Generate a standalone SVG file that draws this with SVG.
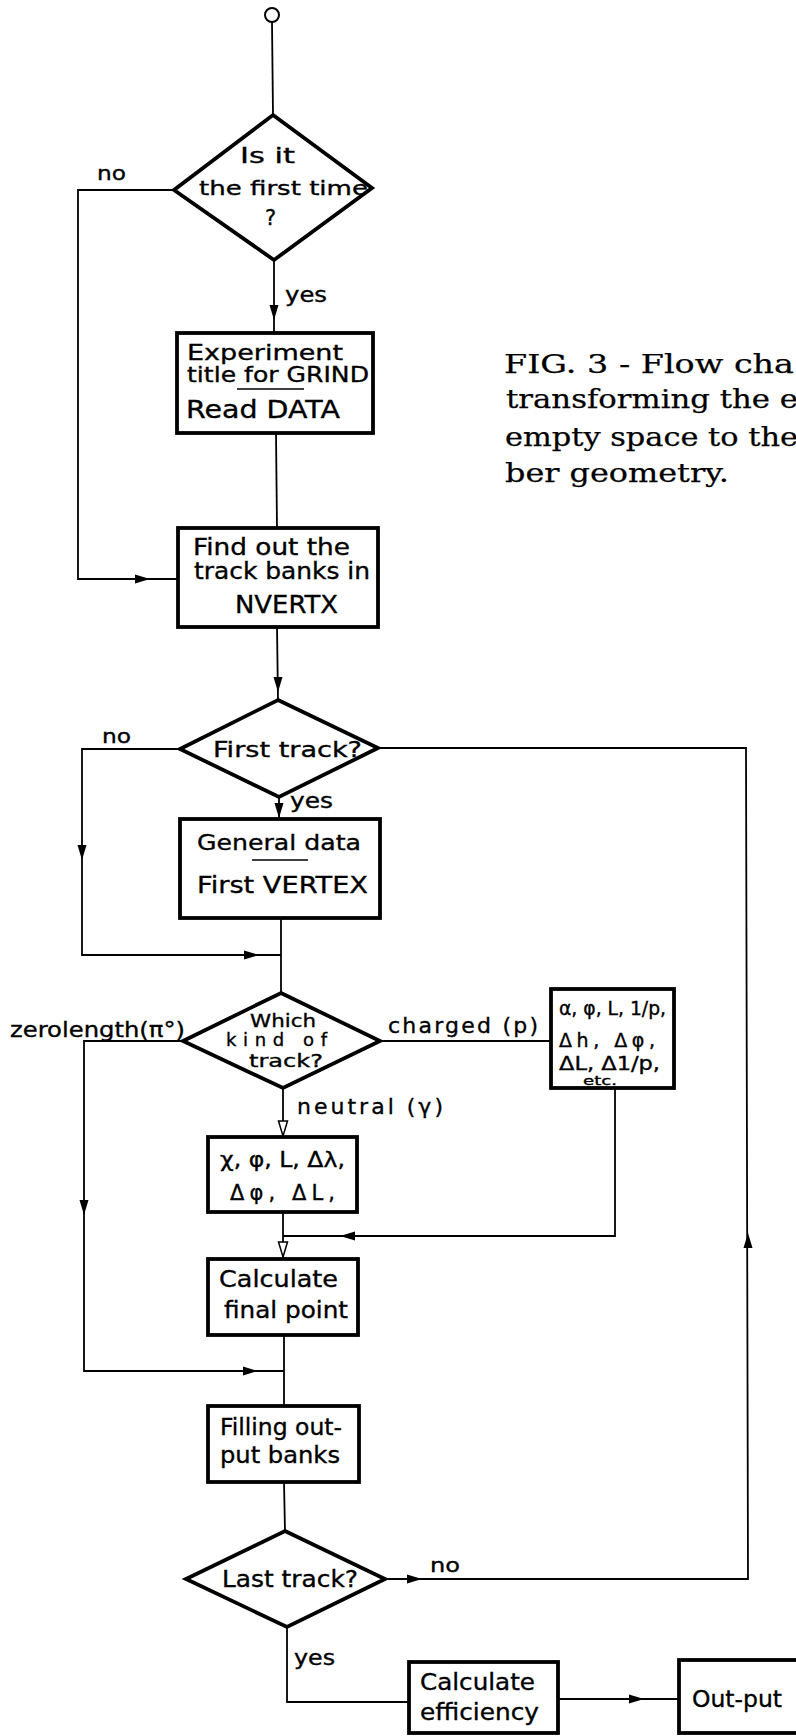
<svg xmlns="http://www.w3.org/2000/svg" xmlns:xlink="http://www.w3.org/1999/xlink" width="796" height="1736" viewBox="0 0 796 1736">
<style>
.shape{fill:#fff;stroke:#000;stroke-width:3.8;stroke-linejoin:miter}
.con{fill:none;stroke:#000;stroke-width:1.8}
.t{font-family:"DejaVu Sans","Liberation Sans",Arial,sans-serif;fill:#000;stroke:#000;stroke-width:0.35}
.cap{font-family:"DejaVu Serif","Liberation Serif",serif;fill:#000;stroke:#000;stroke-width:0.25;font-size:26px}
.ul{stroke:#000;stroke-width:1.6}
</style>
<defs>
<path id="ah" d="M0,0 L-15,-4.5 L-15,4.5 Z" fill="#000"/>
<path id="aho" d="M0,0 L-15,-4.5 L-15,4.5 Z" fill="#fff" stroke="#000" stroke-width="1.5"/>
</defs>
<rect width="796" height="1736" fill="#fff"/>

<g id="connectors">
<path class="con" d="M272,22 L273,115"/>
<path class="con" d="M274,260 L274,333"/>
<path class="con" d="M174,190 L78,190 L78,579 L178,579"/>
<path class="con" d="M276,433 L277,528"/>
<path class="con" d="M277,627 L278,700"/>
<path class="con" d="M180,749 L82,749 L82,955 L281,955"/>
<path class="con" d="M279,797 L279,819"/>
<path class="con" d="M281,918 L281,993"/>
<path class="con" d="M378,748 L746,748 L748,1579 L385,1579"/>
<path class="con" d="M183,1041 L84,1041 L84,1371 L284,1371"/>
<path class="con" d="M380,1041 L551,1041"/>
<path class="con" d="M283,1088 L283,1137"/>
<path class="con" d="M615,1088 L615,1236 L283,1236"/>
<path class="con" d="M283,1212 L283,1259"/>
<path class="con" d="M284,1335 L284,1406"/>
<path class="con" d="M284,1482 L285,1531"/>
<path class="con" d="M287,1627 L287,1702 L409,1702"/>
<path class="con" d="M558,1699 L679,1699"/>
<use xlink:href="#ah" transform="translate(274,320) rotate(90)"/>
<use xlink:href="#ah" transform="translate(150,579)"/>
<use xlink:href="#ah" transform="translate(278,692) rotate(90)"/>
<use xlink:href="#ah" transform="translate(82,860) rotate(90)"/>
<use xlink:href="#ah" transform="translate(279,818) rotate(90)"/>
<use xlink:href="#ah" transform="translate(259,955)"/>
<use xlink:href="#aho" transform="translate(283,1136) rotate(90)"/>
<use xlink:href="#ah" transform="translate(340,1236) rotate(180)"/>
<use xlink:href="#aho" transform="translate(283,1257) rotate(90)"/>
<use xlink:href="#ah" transform="translate(84,1215) rotate(90)"/>
<use xlink:href="#ah" transform="translate(258,1371)"/>
<use xlink:href="#ah" transform="translate(748,1233) rotate(-90)"/>
<use xlink:href="#ah" transform="translate(422,1579)"/>
<use xlink:href="#ah" transform="translate(644,1699)"/>
<text class="t" x="97" y="180" font-size="20" textLength="29" lengthAdjust="spacingAndGlyphs">no</text>
<text class="t" x="285" y="302" font-size="21" textLength="42" lengthAdjust="spacingAndGlyphs">yes</text>
<text class="t" x="102" y="743" font-size="20" textLength="29" lengthAdjust="spacingAndGlyphs">no</text>
<text class="t" x="290" y="808" font-size="21" textLength="43" lengthAdjust="spacingAndGlyphs">yes</text>
<text class="t" x="10" y="1037" font-size="21" textLength="175" lengthAdjust="spacingAndGlyphs">zerolength(π°)</text>
<text class="t" x="388" y="1033" font-size="22" textLength="150" lengthAdjust="spacing">charged (p)</text>
<text class="t" x="297" y="1114" font-size="22" textLength="146" lengthAdjust="spacing">neutral (γ)</text>
<text class="t" x="430" y="1572" font-size="20" textLength="30" lengthAdjust="spacingAndGlyphs">no</text>
<text class="t" x="294" y="1665" font-size="21" textLength="41" lengthAdjust="spacingAndGlyphs">yes</text>
</g>

<g id="start">
<circle cx="272" cy="15" r="7" fill="#fff" stroke="#000" stroke-width="2"/>
</g>

<g id="first-time">
<polygon class="shape" points="273,115 372,188 274,260 174,190"/>
<text class="t" x="240" y="163" font-size="21" textLength="55" lengthAdjust="spacingAndGlyphs">Is it</text>
<text class="t" x="199" y="195" font-size="20" textLength="169" lengthAdjust="spacingAndGlyphs">the first time</text>
<text class="t" x="265" y="225" font-size="21">?</text>
</g>

<g id="experiment">
<rect class="shape" x="177" y="333" width="196" height="100"/>
<text class="t" x="187" y="360" font-size="21" textLength="156" lengthAdjust="spacingAndGlyphs">Experiment</text>
<text class="t" x="187" y="382" font-size="21" textLength="182" lengthAdjust="spacingAndGlyphs">title for GRIND</text>
<line class="ul" x1="237" y1="389" x2="304" y2="389"/>
<text class="t" x="186" y="418" font-size="24" textLength="154" lengthAdjust="spacingAndGlyphs">Read  DATA</text>
</g>

<g id="find-out">
<rect class="shape" x="178" y="528" width="200" height="99"/>
<text class="t" x="193" y="555" font-size="23" textLength="157" lengthAdjust="spacingAndGlyphs">Find out the</text>
<text class="t" x="194" y="579" font-size="23" textLength="176" lengthAdjust="spacingAndGlyphs">track banks in</text>
<text class="t" x="235" y="613" font-size="24" textLength="103" lengthAdjust="spacingAndGlyphs">NVERTX</text>
</g>

<g id="first-track">
<polygon class="shape" points="278,700 378,748 279,797 180,749"/>
<text class="t" x="213" y="757" font-size="22" textLength="149" lengthAdjust="spacingAndGlyphs">First track?</text>
</g>

<g id="general-data">
<rect class="shape" x="180" y="819" width="200" height="99"/>
<text class="t" x="197" y="850" font-size="22" textLength="164" lengthAdjust="spacingAndGlyphs">General data</text>
<line class="ul" x1="252" y1="860" x2="308" y2="860"/>
<text class="t" x="197" y="893" font-size="23" textLength="171" lengthAdjust="spacingAndGlyphs">First VERTEX</text>
</g>

<g id="which-kind">
<polygon class="shape" points="281,993 380,1041 283,1088 183,1041"/>
<text class="t" x="250" y="1027" font-size="18" textLength="66" lengthAdjust="spacingAndGlyphs">Which</text>
<text class="t" x="226" y="1046" font-size="18" textLength="101" lengthAdjust="spacing">kind   of</text>
<text class="t" x="249" y="1067" font-size="18" textLength="74" lengthAdjust="spacingAndGlyphs">track?</text>
</g>

<g id="charged-box">
<rect class="shape" x="551" y="989" width="123" height="99"/>
<text class="t" x="559" y="1015" font-size="19" textLength="107" lengthAdjust="spacingAndGlyphs">α, φ, L, 1/p,</text>
<text class="t" x="559" y="1047" font-size="19" textLength="96" lengthAdjust="spacing">Δh, Δφ,</text>
<text class="t" x="559" y="1070" font-size="19" textLength="101" lengthAdjust="spacingAndGlyphs">ΔL, Δ1/p,</text>
<text class="t" x="583" y="1085" font-size="13" textLength="34" lengthAdjust="spacingAndGlyphs">etc.</text>
</g>

<g id="neutral-box">
<rect class="shape" x="208" y="1137" width="149" height="75"/>
<text class="t" x="220" y="1167" font-size="21" textLength="125" lengthAdjust="spacingAndGlyphs">χ, φ, L, Δλ,</text>
<text class="t" x="230" y="1200" font-size="21" textLength="105" lengthAdjust="spacing">Δφ, ΔL,</text>
</g>

<g id="final-point">
<rect class="shape" x="208" y="1259" width="150" height="76"/>
<text class="t" x="219" y="1287" font-size="23" textLength="119" lengthAdjust="spacingAndGlyphs">Calculate</text>
<text class="t" x="224" y="1318" font-size="23" textLength="124" lengthAdjust="spacingAndGlyphs">final point</text>
</g>

<g id="filling">
<rect class="shape" x="208" y="1406" width="151" height="76"/>
<text class="t" x="220" y="1435" font-size="23" textLength="122" lengthAdjust="spacingAndGlyphs">Filling out-</text>
<text class="t" x="220" y="1463" font-size="23" textLength="120" lengthAdjust="spacingAndGlyphs">put  banks</text>
</g>

<g id="last-track">
<polygon class="shape" points="285,1531 385,1579 287,1627 186,1579"/>
<text class="t" x="222" y="1587" font-size="23" textLength="136" lengthAdjust="spacingAndGlyphs">Last track?</text>
</g>

<g id="efficiency">
<rect class="shape" x="409" y="1662" width="149" height="71"/>
<text class="t" x="420" y="1690" font-size="23" textLength="115" lengthAdjust="spacingAndGlyphs">Calculate</text>
<text class="t" x="420" y="1720" font-size="23" textLength="119" lengthAdjust="spacingAndGlyphs">efficiency</text>
</g>

<g id="output">
<rect class="shape" x="679" y="1660" width="130" height="73"/>
<text class="t" x="692" y="1707" font-size="23" textLength="90" lengthAdjust="spacingAndGlyphs">Out-put</text>
</g>

<g id="caption">
<text class="cap" x="504" y="373" textLength="290" lengthAdjust="spacingAndGlyphs">FIG.  3 - Flow cha</text>
<text class="cap" x="506" y="408" textLength="292" lengthAdjust="spacingAndGlyphs">transforming the e</text>
<text class="cap" x="505" y="446" textLength="293" lengthAdjust="spacingAndGlyphs">empty space to the</text>
<text class="cap" x="505" y="482" textLength="224" lengthAdjust="spacingAndGlyphs">ber geometry.</text>
</g>
</svg>
